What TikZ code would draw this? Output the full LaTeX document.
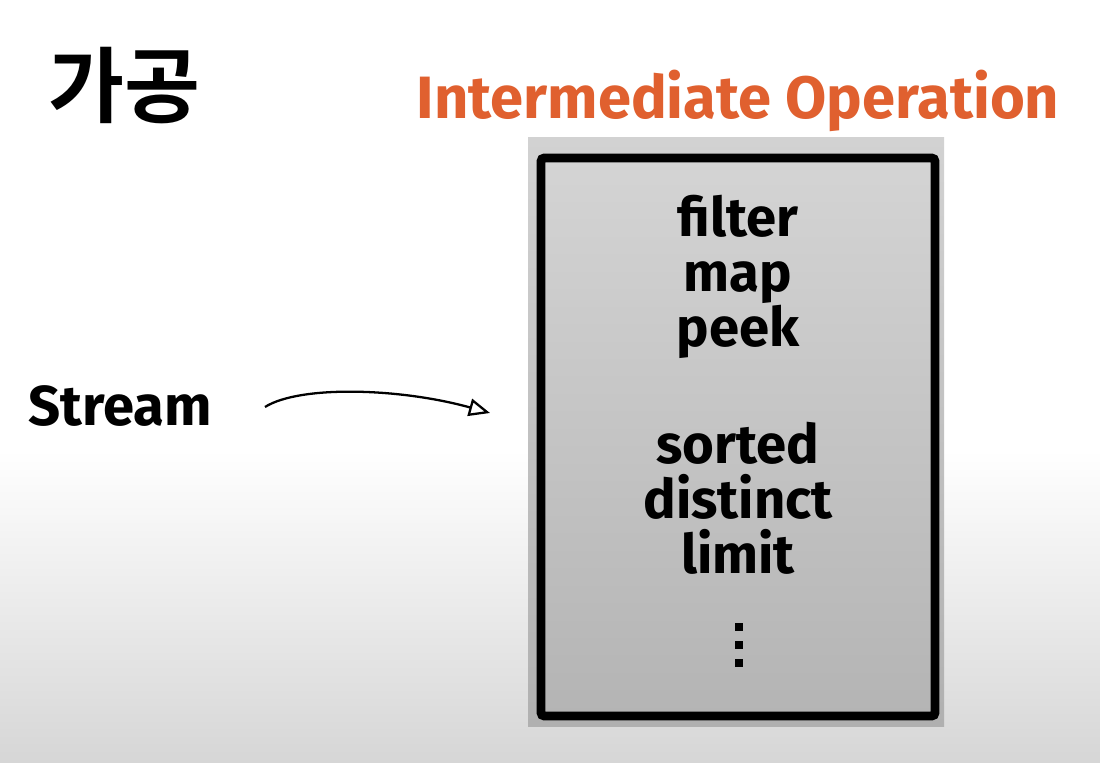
\documentclass[tikz,border=0pt]{standalone}
\usepackage{fontspec}
\setmainfont{Fira Sans}
\newfontfamily\kr{Noto Sans CJK KR}[BoldFont={* Bold}]
\usetikzlibrary{arrows.meta}
\definecolor{orangeT}{HTML}{E0602F}
\definecolor{bgBottom}{HTML}{D6D6D6}
\definecolor{rimTop}{HTML}{D2D2D2}
\definecolor{rimBot}{HTML}{B0B0B0}
\definecolor{boxTop}{HTML}{D4D4D4}
\definecolor{boxBot}{HTML}{B4B4B4}
\tikzset{
  optext/.style={font=\fontsize{31}{36}\selectfont\bfseries, inner sep=0pt, anchor=base},
  dotsq/.style={fill=black, minimum size=8*0.567pt, inner sep=0pt},
}
\begin{document}
\begin{tikzpicture}[x=0.02cm,y=-0.02cm]
\useasboundingbox (0,0) rectangle (1100,763);
% background
\fill[white] (0,0) rectangle (1100,451);
\shade[top color=white, bottom color=bgBottom] (0,450) rectangle (1100,763);
% box rim and box
\shade[top color=rimTop, bottom color=rimBot] (528,138) rectangle (944,727);
\shade[top color=boxTop, bottom color=boxBot] (541,158) rectangle (935,716);
\draw[line width=9*0.567pt, rounded corners=2pt] (541,158) rectangle (935,716);
% titles
\node[font=\kr\fontsize{47}{52}\selectfont\bfseries, inner sep=0pt, anchor=west] (title) at (48,86) {가공};
\node[font=\fontsize{34}{38}\selectfont\bfseries, text=orangeT, inner sep=0pt] (iop) at (738,101) {Intermediate Operation};
\node[font=\fontsize{32}{36}\selectfont\bfseries, inner sep=0pt, anchor=west] (stream) at (28,406) {Stream};
% operations
\node[optext] (filter) at (738,237) {filter};
\node[optext] (map) at (738,292) {map};
\node[optext] (peek) at (738,347) {peek};
\node[optext] (sorted) at (738,464) {sorted};
\node[optext] (distinct) at (738,519) {distinct};
\node[optext] (limit) at (738,574) {limit};
\node[dotsq] (d1) at (739,627) {};
\node[dotsq] (d2) at (739,645) {};
\node[dotsq] (d3) at (739,663) {};
% arrow
\coordinate (aS) at (265,407);
\coordinate (aE) at (490,413);
\draw[line width=1.3pt, -{Triangle[open,length=12pt,width=10pt,line width=1.3pt]}]
  (aS) .. controls (300,385) and (400,388) .. (aE);
\end{tikzpicture}
\end{document}
